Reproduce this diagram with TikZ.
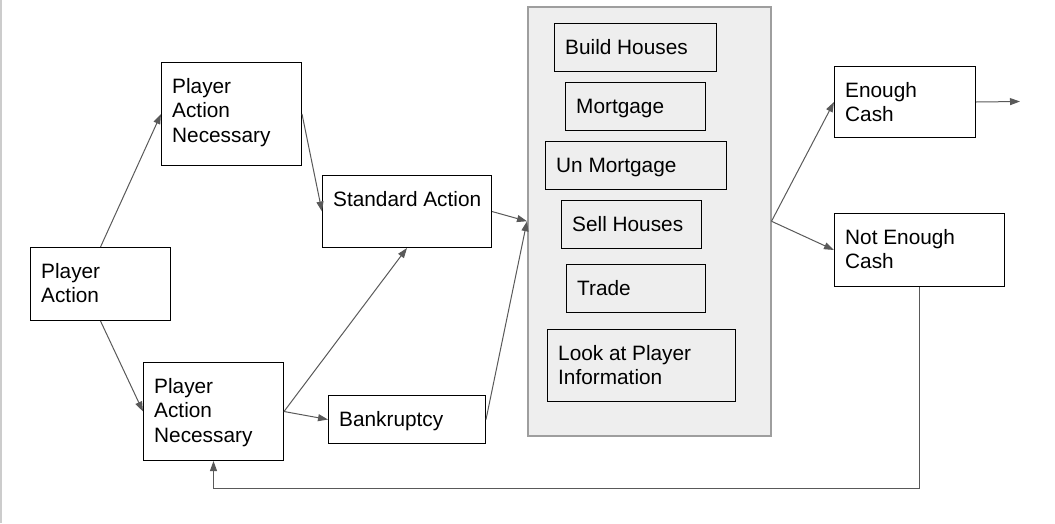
\documentclass[tikz,border=0pt]{standalone}
\usepackage{fontspec}
\setmainfont{Liberation Sans}
\usetikzlibrary{arrows.meta}
\definecolor{linegray}{HTML}{595959}
\definecolor{panelfill}{HTML}{EEEEEE}
\definecolor{panelline}{HTML}{9E9E9E}
\definecolor{edgegray}{HTML}{CCCCCC}
\newcommand\mybox[6]{%
  \node[box, minimum width=#4pt, minimum height=#5pt] (#1) at (#2,#3) {};
  \node[lbl] (#1t) at (#2+11,#3+13.6) {\strut #6};
}
\begin{document}
\begin{tikzpicture}[x=1pt,y=-1pt,
  box/.style={draw=black, line width=1pt, anchor=north west, inner sep=0pt},
  lbl/.style={anchor=north west, inner sep=0pt, align=left, text=black,
    font=\fontsize{20.8}{24.6}\selectfont},
  conn/.style={draw=linegray, line width=1pt, -{Triangle[length=10pt,width=7pt]}},
  panelbox/.style={draw=panelline, fill=panelfill, line width=1.5pt, anchor=north west, inner sep=0pt}]
\useasboundingbox (0,0) rectangle (1055,523);
\fill[edgegray] (0,0) rectangle (2,523);
% panel
\node[panelbox, minimum width=243pt, minimum height=429pt] (P) at (527,6) {};
% boxes
\mybox{A}{30}{247}{140}{73}{Player\\Action}
\mybox{B}{161}{62}{140}{103}{Player\\Action\\Necessary}
\mybox{C}{143}{362}{140}{98}{Player\\Action\\Necessary}
\mybox{D}{322}{175}{169}{72}{Standard Action}
\mybox{E}{328}{395}{157}{48}{Bankruptcy}
\mybox{BH}{554}{23}{162}{48}{Build Houses}
\mybox{MG}{565}{82}{140}{48}{Mortgage}
\mybox{UM}{545}{141}{181}{48}{Un Mortgage}
\mybox{SH}{561}{200}{140}{48}{Sell Houses}
\mybox{TR}{566}{264}{139}{48}{Trade}
\mybox{LP}{547}{329}{188}{72}{Look at Player\\Information}
\mybox{EC}{834}{66}{141}{71}{Enough\\Cash}
\mybox{NC}{834}{213}{170}{73}{Not Enough\\Cash}
\coordinate (out) at (1020,101.5);
% connectors
\draw[conn] (A.north) -- (B.west);
\draw[conn] (B.east) -- (D.west);
\draw[conn] (A.south) -- (C.west);
\draw[conn] (C.east) -- (D.south);
\draw[conn] (C.east) -- (E.west);
\draw[conn] (D.east) -- (P.west);
\draw[conn] (E.east) -- (P.west);
\draw[conn] (P.east) -- (EC.west);
\draw[conn] (P.east) -- (NC.west);
\draw[conn] (EC.east) -- (out);
\draw[conn] (NC.south) -- ++(0,201) -| (C.south);
\end{tikzpicture}
\end{document}
